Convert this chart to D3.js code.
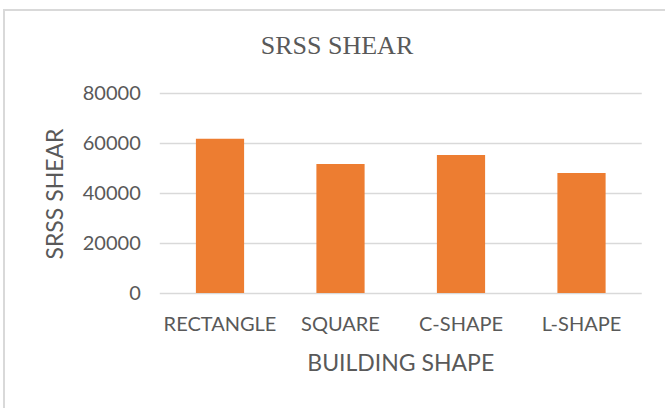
<!DOCTYPE html>
<html lang="en">
<head>
  <meta charset="UTF-8">
  <script src="https://d3js.org/d3.v7.min.js"></script>
  <title>SRSS SHEAR</title>
  <style>
    body { margin: 0; background: #fff; }
    .tick text { font-family: Lato, 'Open Sans', sans-serif; fill: #595959; }
  </style>
</head>
<body>
<div id="chart"></div>
<script>
  // data
  let shapes = ['RECTANGLE', 'SQUARE', 'C-SHAPE', 'L-SHAPE']
  let shear = [61700, 51600, 55200, 48000]
  let yTicks = [0, 20000, 40000, 60000, 80000]

  let width = 665, height = 408
  let margin = {top: 93, right: 23, bottom: 115, left: 160}

  let svg = d3.select("#chart").append("svg")
          .attr("width", width)
          .attr("height", height)

  // chart frame
  svg.append("rect")
          .attr("x", 4).attr("y", 10)
          .attr("width", width + 10).attr("height", height + 10)
          .attr("fill", "#fff")
          .attr("stroke", "#d9d9d9")
          .attr("stroke-width", 2)

  let x = d3.scaleBand().domain(shapes)
          .range([margin.left - 0.25, width - margin.right - 0.25])
          .paddingInner(0.6).paddingOuter(0.3)
  let y = d3.scaleLinear().domain([0, 80000]).range([height - margin.bottom, margin.top])

  // y axis + gridlines
  let gy = svg.append("g")
          .attr("transform", "translate(" + (margin.left - 0.25) + ",0)")
          .call(d3.axisLeft(y).tickValues(yTicks).tickFormat(d3.format("d"))
                  .tickSize(-(x.range()[1] - x.range()[0])).tickPadding(19))
  gy.select(".domain").remove()
  gy.selectAll(".tick line").attr("stroke", "#d9d9d9").attr("stroke-width", 1.5)
  gy.selectAll(".tick text").style("font-size", "20px")

  // bars
  svg.append("g").selectAll("rect")
          .data(shapes)
          .join("rect")
          .attr("x", d => x(d))
          .attr("width", x.bandwidth())
          .attr("y", (d, i) => y(shear[i]))
          .attr("height", (d, i) => y(0) - y(shear[i]))
          .attr("fill", "#ed7d31")

  // x axis labels
  let gx = svg.append("g")
          .attr("transform", "translate(0," + y(0) + ")")
          .call(d3.axisBottom(x).tickSize(0).tickPadding(24))
  gx.select(".domain").remove()
  gx.selectAll(".tick text").style("font-size", "20px")

  // titles
  svg.append("text")
          .attr("x", 337).attr("y", 54)
          .attr("text-anchor", "middle")
          .style("font-family", "'Liberation Serif', 'Times New Roman', serif")
          .style("font-size", "26px")
          .style("fill", "#595959")
          .text("SRSS SHEAR")

  svg.append("text")
          .attr("transform", "translate(63,194) rotate(-90)")
          .attr("text-anchor", "middle")
          .style("font-family", "Lato, sans-serif")
          .style("font-size", "23px")
          .style("fill", "#595959")
          .text("SRSS SHEAR")

  svg.append("text")
          .attr("x", (x.range()[0] + x.range()[1]) / 2).attr("y", 371)
          .attr("text-anchor", "middle")
          .style("font-family", "Lato, sans-serif")
          .style("font-size", "23px")
          .style("fill", "#595959")
          .text("BUILDING SHAPE")
</script>
</body>
</html>
